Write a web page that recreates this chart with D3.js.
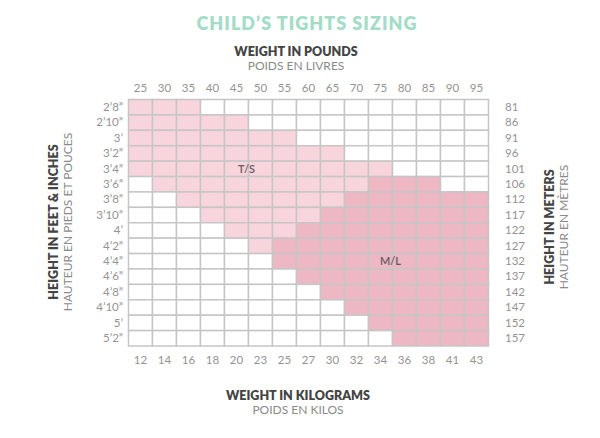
<!DOCTYPE html>
<html><head><meta charset="utf-8">
<script src="https://cdn.jsdelivr.net/npm/d3@7"></script>
<style>
body{margin:0;background:#fff;}
svg{display:block;font-family:Lato,"Open Sans",sans-serif;}
</style></head>
<body><svg id="c" width="600" height="438"></svg>
<script>
const title = "CHILD’S TIGHTS SIZING";
const lbs = ["25","30","35","40","45","50","55","60","65","70","75","80","85","90","95"];
const kg = ["12","14","16","18","20","23","25","27","30","32","34","36","38","41","43"];
const feet = ["2’8”","2’10”","3’","3’2”","3’4”","3’6”","3’8”","3’10”","4’","4’2”","4’4”","4’6”","4’8”","4’10”","5’","5’2”"];
const cm = ["81","86","91","96","101","106","112","117","122","127","132","137","142","147","152","157"];
// size per row, one code per weight column: 0 = none, 1 = T/S, 2 = M/L
const sizeRows = [
  "111000000000000",
  "111110000000000",
  "111111100000000",
  "111111111000000",
  "111111111110000",
  "011111111122200",
  "001111111222222",
  "000111112222222",
  "000011122222222",
  "000001222222222",
  "000000222222222",
  "000000022222222",
  "000000002222222",
  "000000000222222",
  "000000000022222",
  "000000000002222"
];
// label placement: [size, height row, weight column on whose left edge the label is centred]
const sizeLabels = [["T/S","3’4”","50"],["M/L","4’4”","80"]];

const svg = d3.select("#c");
const x = d3.scaleBand().domain(lbs).range([128.5, 488.5]);
const xk = d3.scaleBand().domain(kg).range([128.5, 488.5]);
const y = d3.scaleBand().domain(feet).range([99.5, 346]);
const ym = d3.scaleBand().domain(cm).range([99.5, 346]);
const color = d3.scaleOrdinal().domain([0,1,2]).range(["#ffffff","#f8d4dc","#edb7c4"]);

const cells = [];
sizeRows.forEach((r,i)=>r.split("").forEach((c,j)=>cells.push({h:feet[i],w:lbs[j],s:+c})));

svg.append("g").selectAll("rect").data(cells).join("rect")
  .attr("x",d=>x(d.w)).attr("y",d=>y(d.h))
  .attr("width",x.bandwidth()).attr("height",y.bandwidth())
  .attr("fill",d=>color(d.s)).attr("stroke","#c6c6c6").attr("stroke-width",1.5);

svg.append("g").selectAll("text").data(sizeLabels).join("text")
  .attr("x",d=>x(d[2]) - 2).attr("y",d=>y(d[1])+y.bandwidth()/2)
  .attr("dy","0.35em").attr("text-anchor","middle")
  .attr("font-size",11).attr("font-weight",600).attr("fill","#6a5a60")
  .text(d=>d[0]);

const axTop = svg.append("g").attr("transform","translate(0,95)").call(d3.axisTop(x).tickSize(0).tickPadding(0));
const axBot = svg.append("g").attr("transform","translate(0,356)").call(d3.axisBottom(xk).tickSize(0).tickPadding(0));
const axL = svg.append("g").attr("transform","translate(123,0)").call(d3.axisLeft(y).tickSize(0).tickPadding(0));
const axR = svg.append("g").attr("transform","translate(505,0)").call(d3.axisRight(ym).tickSize(0).tickPadding(0));
[axTop,axBot,axL,axR].forEach(a=>{
  a.attr("font-family",null).attr("font-size",null);
  a.select(".domain").remove();
  a.selectAll("text").attr("font-size",11.5).attr("fill","#939393");
});
axTop.selectAll("text").attr("dy","-0.25em");

svg.append("text").attr("x",307).attr("y",30).attr("text-anchor","middle")
  .attr("font-size",18).attr("font-weight",800).attr("fill","#a3dcc7").attr("letter-spacing",1).text(title);

function pair(xp, yp, t1, t2, rot){
  const g = svg.append("g").attr("transform",`translate(${xp},${yp})` + (rot?" rotate(-90)":""));
  g.append("text").attr("text-anchor","middle").attr("y",0).attr("font-size",12.5).attr("font-weight",800).attr("fill","#444").text(t1);
  g.append("text").attr("text-anchor","middle").attr("y",14).attr("font-size",12).attr("fill","#8a8a8a").text(t2);
}
pair(296,56,"WEIGHT IN POUNDS","POIDS EN LIVRES",false);
pair(298,400,"WEIGHT IN KILOGRAMS","POIDS EN KILOS",false);
pair(57.5,222,"HEIGHT IN FEET & INCHES","HAUTEUR EN PIEDS ET POUCES",true);
pair(554,227,"HEIGHT IN METERS","HAUTEUR EN MÈTRES",true);
</script></body></html>
